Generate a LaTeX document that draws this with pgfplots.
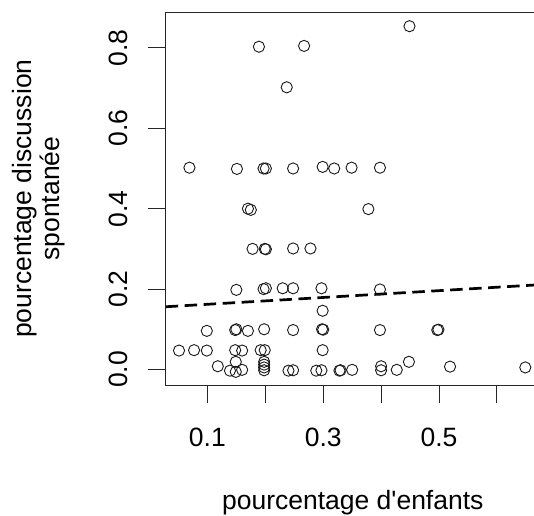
\documentclass[border=0pt]{standalone}
\usepackage{fontspec}
\setmainfont{Liberation Sans}
\usepackage{pgfplots}
\pgfplotsset{compat=1.18}

\begin{document}
\fontsize{26.5}{31.8}\selectfont
\begin{tikzpicture}
\begin{axis}[
    at={(0,0)}, anchor=south west,
    scale only axis,
    width=368.3pt, height=372.7pt,
    xmin=0.028, xmax=0.664,
    ymin=-0.0387, ymax=0.8886,
    axis line style={draw=none},
    tick align=outside,
    major tick length=17.5pt,
    tick style={black!85, line width=1pt},
    xtick pos=bottom, ytick pos=left,
    xtick={0.1,0.2,0.3,0.4,0.5,0.6},
    xticklabels={0.1,,0.3,,0.5,},
    ytick={0,0.2,0.4,0.6,0.8},
    yticklabels={0.0,0.2,0.4,0.6,0.8},
    xticklabel style={anchor=north},
    xticklabel shift=16pt,
    yticklabel style={rotate=90, anchor=south},
    yticklabel shift=11pt,
    xlabel={pourcentage d\textquotesingle enfants},
    xlabel style={at={(rel axis cs:0.508,-0.333)}, anchor=base},
    ylabel={pourcentage discussion\\spontanée},
    ylabel style={at={(rel axis cs:-0.345,0.5)}, anchor=center, rotate=0,
        align=center, font=\fontsize{26.5}{28.5}\selectfont},
    after end axis/.code={
        \draw[black!85, line width=1pt] (rel axis cs:1,1) -- (rel axis cs:0,1)
            -- (rel axis cs:0,0) -- (rel axis cs:1,0);
    },
]

% fitted line
\addplot[black, line width=2.7pt, dash pattern=on 12.5pt off 6.5pt] coordinates {
    (0.028,0.156) (0.664,0.210)
};

\addplot[only marks, mark=o, mark size=5.6pt, mark options={line width=0.9pt, black!90}] coordinates {
    (0.189,0.803) (0.267,0.805) (0.237,0.702) (0.449,0.854)
    (0.069,0.502) (0.151,0.499) (0.197,0.500) (0.201,0.500) (0.248,0.500)
    (0.299,0.504) (0.319,0.500) (0.349,0.502) (0.398,0.502)
    (0.170,0.400) (0.175,0.397) (0.378,0.399)
    (0.178,0.300) (0.199,0.300) (0.201,0.299) (0.248,0.301) (0.278,0.301)
    (0.150,0.198) (0.197,0.200) (0.201,0.202) (0.230,0.202) (0.248,0.202)
    (0.297,0.202) (0.398,0.199)
    (0.299,0.146)
    (0.099,0.096) (0.148,0.098) (0.150,0.100) (0.170,0.096) (0.198,0.100)
    (0.248,0.098) (0.298,0.100) (0.300,0.099) (0.398,0.098) (0.497,0.098) (0.499,0.099)
    (0.051,0.047) (0.077,0.048) (0.099,0.047) (0.148,0.048) (0.160,0.047)
    (0.192,0.048) (0.199,0.048) (0.299,0.048)
    (0.118,0.008) (0.149,0.019) (0.139,-0.003) (0.149,-0.006) (0.160,-0.001)
    (0.198,0.019) (0.198,0.012) (0.198,0.005) (0.198,-0.002)
    (0.240,-0.003) (0.248,-0.002) (0.288,-0.003) (0.297,-0.002)
    (0.328,-0.003) (0.330,-0.002) (0.350,-0.001)
    (0.400,0.008) (0.400,-0.002) (0.427,-0.001) (0.448,0.019)
    (0.519,0.007) (0.649,0.005)
};
\end{axis}
\pgfresetboundingbox
\path (-165.7pt,-130pt) rectangle (368.3pt,385pt);
\end{tikzpicture}
\end{document}
